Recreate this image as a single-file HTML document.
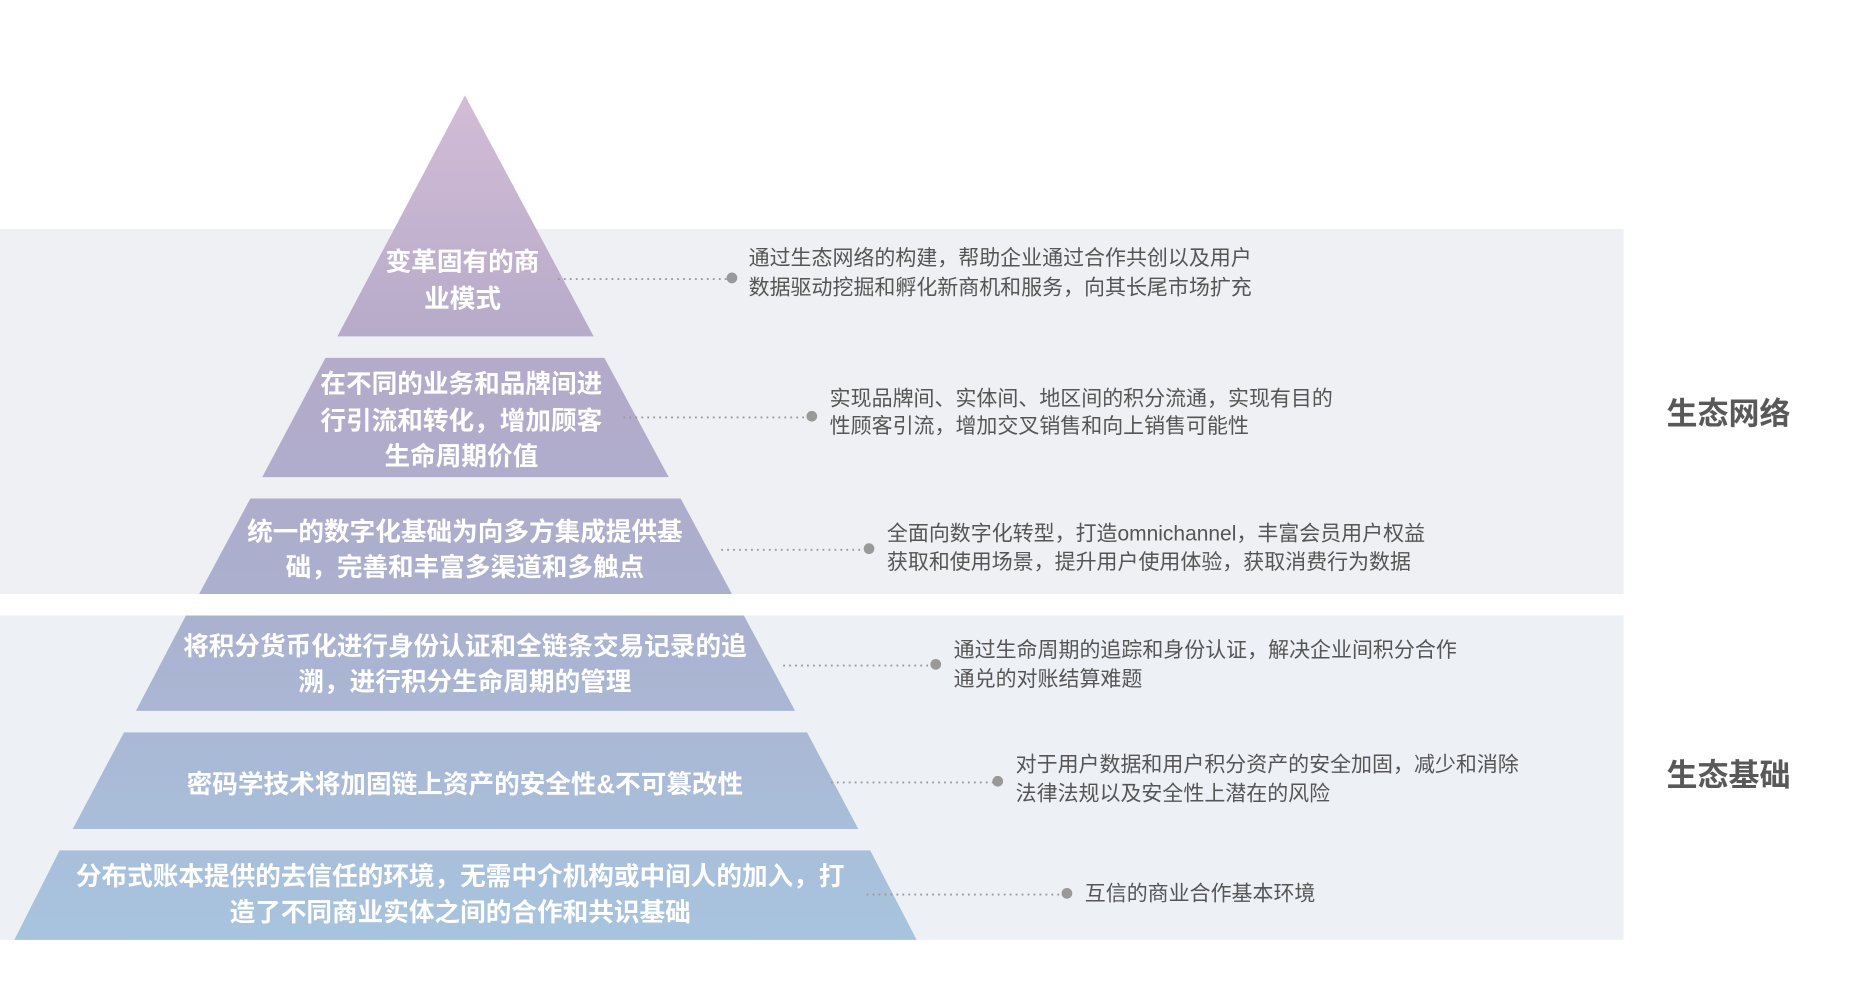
<!DOCTYPE html>
<html><head><meta charset="utf-8"><style>
html,body{margin:0;padding:0;background:#fff;width:1868px;height:984px;overflow:hidden}
svg{display:block}
.t{font-family:"Liberation Sans","Noto Sans CJK SC",sans-serif;fill:#fff;font-weight:bold;font-size:21.5px;text-anchor:middle}
.d{font-family:"Liberation Sans","Noto Sans CJK SC",sans-serif;fill:#555;font-size:17.6px}
.h{font-family:"Liberation Sans","Noto Sans CJK SC",sans-serif;fill:#595959;font-weight:bold;font-size:26px}
.l{stroke:#999;stroke-width:1.6;stroke-dasharray:1.5 3.5;fill:none}
</style></head><body>
<svg width="1868" height="984" viewBox="0 0 1567 825" preserveAspectRatio="none">
<defs><linearGradient id="g" gradientUnits="userSpaceOnUse" x1="0" y1="80" x2="0" y2="788">
<stop offset="0" stop-color="#d3bcd6"/><stop offset="0.3" stop-color="#b5aac9"/><stop offset="0.55" stop-color="#acaecd"/><stop offset="1" stop-color="#a7c4de"/></linearGradient></defs>
<rect x="0" y="192" width="1362" height="306" fill="#eff0f4"/>
<rect x="0" y="516" width="1362" height="272" fill="#edf1f6"/>
<g fill="url(#g)">
<polygon points="390,80 498,282 283,282"/>
<polygon points="273,300 507,300 561,400 220,400"/>
<polygon points="210,418 571,418 614,498 167,498"/>
<polygon points="156,516 624,516 667,596 114,596"/>
<polygon points="104,614 677,614 720,695 61,695"/>
<polygon points="50,713 730,713 769,788 12,788"/>
</g>
<text class="t" x="388" y="227">变革固有的商</text>
<text class="t" x="388" y="258">业模式</text>
<text class="t" x="387" y="329">在不同的业务和品牌间进</text>
<text class="t" x="387" y="360">行引流和转化，增加顾客</text>
<text class="t" x="387" y="390">生命周期价值</text>
<text class="t" x="390" y="453">统一的数字化基础为向多方集成提供基</text>
<text class="t" x="390" y="483">础，完善和丰富多渠道和多触点</text>
<text class="t" x="390" y="549">将积分货币化进行身份认证和全链条交易记录的追</text>
<text class="t" x="390" y="579">溯，进行积分生命周期的管理</text>
<text class="t" x="390" y="665">密码学技术将加固链上资产的安全性&amp;不可篡改性</text>
<text class="t" x="386" y="742">分布式账本提供的去信任的环境，无需中介机构或中间人的加入，打</text>
<text class="t" x="386" y="772">造了不同商业实体之间的合作和共识基础</text>
<g fill="#999">
<path class="l" d="M468 234H610"/><circle cx="614" cy="233" r="4.5"/>
<path class="l" d="M523 350H677"/><circle cx="681" cy="349" r="4.5"/>
<path class="l" d="M605 461H725"/><circle cx="729" cy="460" r="4.5"/>
<path class="l" d="M657 558H781"/><circle cx="785" cy="557" r="4.5"/>
<path class="l" d="M697 656H833"/><circle cx="837" cy="655" r="4.5"/>
<path class="l" d="M727 750H891"/><circle cx="895" cy="749" r="4.5"/>
</g>
<text class="d" x="628" y="222">通过生态网络的构建，帮助企业通过合作共创以及用户</text>
<text class="d" x="628" y="247">数据驱动挖掘和孵化新商机和服务，向其长尾市场扩充</text>
<text class="d" x="696" y="340">实现品牌间、实体间、地区间的积分流通，实现有目的</text>
<text class="d" x="696" y="363">性顾客引流，增加交叉销售和向上销售可能性</text>
<text class="d" x="744" y="453">全面向数字化转型，打造omnichannel，丰富会员用户权益</text>
<text class="d" x="744" y="477">获取和使用场景，提升用户使用体验，获取消费行为数据</text>
<text class="d" x="800" y="551">通过生命周期的追踪和身份认证，解决企业间积分合作</text>
<text class="d" x="800" y="575">通兑的对账结算难题</text>
<text class="d" x="852" y="647">对于用户数据和用户积分资产的安全加固，减少和消除</text>
<text class="d" x="852" y="671">法律法规以及安全性上潜在的风险</text>
<text class="d" x="910" y="755">互信的商业合作基本环境</text>
<text class="h" x="1398" y="356">生态网络</text>
<text class="h" x="1398" y="659">生态基础</text>
</svg>
</body></html>
